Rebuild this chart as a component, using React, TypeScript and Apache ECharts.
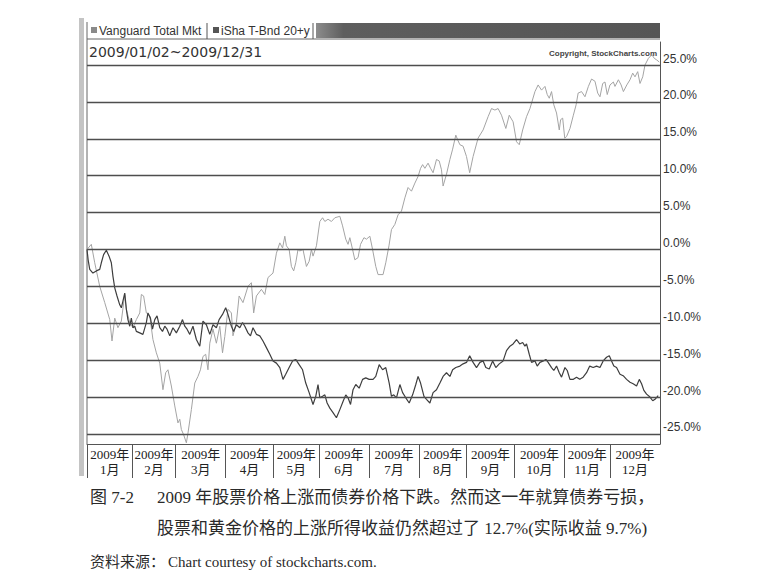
import React, { useEffect, useRef } from "react";
import * as echarts from "echarts";

// Trading-day index (0..252) and % change
const vtiData: [number, number][] = [
  [0, 0], [1.9, 0.7], [3.4, -1.8], [5.6, -5.0], [7.8, -7.2], [10.0, -9.5], [11.0, -12.4], [12.2, -9.3],
  [13.6, -10.6], [15.1, -9.7], [16.6, -6.1], [17.3, -8.1], [18.8, -9.9], [20.2, -10.6], [21.7, -9.5],
  [23.2, -8.6], [23.9, -6.1], [24.9, -6.3], [26.1, -8.6], [27.6, -9.0], [29.0, -12.2], [30.5, -14.0],
  [32.0, -15.4], [33.4, -19.0], [34.6, -16.7], [35.6, -16.3], [37.1, -18.5], [38.6, -21.2], [40.0, -23.5],
  [40.8, -23.0], [41.5, -24.4], [42.5, -25.1], [43.7, -26.2], [44.4, -24.9], [45.9, -21.7], [47.4, -18.1],
  [48.8, -17.2], [49.9, -16.3], [51.0, -14.5], [52.2, -14.2], [53.2, -16.3], [54.0, -12.7], [55.4, -10.8],
  [56.9, -12.7], [58.4, -10.4], [59.6, -14.0], [60.6, -11.8], [62.0, -8.1], [63.5, -8.6], [64.2, -11.7],
  [65.7, -9.9], [66.9, -6.3], [68.6, -7.2], [70.8, -5.0], [72.3, -4.5], [73.3, -8.6], [74.5, -6.3],
  [76.7, -5.4], [78.2, -6.1], [79.6, -3.8], [81.8, -3.2], [83.3, -0.5], [84.8, 0.9], [86.0, 0.2],
  [87.0, 1.8], [87.7, 0.5], [88.9, 0.0], [89.9, -2.3], [90.9, -2.9], [91.8, -1.8], [92.8, 0.0],
  [93.6, -0.2], [95.0, 0.0], [96.5, -2.3], [97.7, -1.6], [98.7, 0.0], [99.4, -0.9], [100.9, 0.5],
  [102.4, 3.8], [103.6, 4.3], [104.6, 3.8], [106.0, 4.1], [107.5, 3.8], [109.0, 4.3], [111.2, 4.5],
  [112.4, 3.2], [113.8, 1.4], [114.8, 0.7], [115.6, 1.6], [116.8, 0.0], [117.8, -1.4], [119.2, -1.1],
  [120.3, 0.7], [121.8, 1.6], [122.9, 1.4], [124.4, 1.8], [125.6, 0.0], [127.0, -2.3], [128.0, -3.4],
  [130.2, -3.4], [131.4, -1.8], [132.8, 0.5], [133.9, 2.7], [135.4, 3.4], [136.8, 4.7], [138.3, 5.2],
  [139.8, 7.0], [141.2, 8.4], [142.7, 7.9], [144.2, 9.0], [145.6, 9.9], [146.7, 11.0], [147.6, 11.5],
  [148.6, 11.0], [150.0, 11.7], [151.1, 11.0], [152.2, 10.4], [153.7, 12.2], [154.9, 12.0], [155.9, 10.8],
  [156.6, 8.6], [158.1, 10.2], [159.6, 12.2], [160.8, 13.6], [162.2, 15.5], [163.1, 14.8], [164.0, 14.2],
  [165.4, 14.0], [166.9, 12.6], [168.3, 10.4], [169.8, 12.6], [172.0, 15.1], [174.2, 16.2], [176.4, 18.0],
  [177.9, 19.1], [179.4, 18.9], [180.8, 19.1], [182.3, 18.2], [184.2, 16.4], [185.7, 18.2], [187.4, 17.3],
  [188.9, 14.6], [190.1, 14.2], [191.6, 16.2], [193.3, 18.0], [194.8, 19.1], [197.0, 21.4], [198.4, 22.3],
  [199.9, 21.6], [201.4, 22.1], [202.4, 21.0], [203.3, 20.5], [204.3, 21.4], [205.3, 19.6], [206.5, 18.5],
  [207.7, 16.2], [208.3, 17.6], [209.2, 17.8], [210.1, 15.1], [210.9, 15.3], [212.4, 16.4], [213.9, 18.2],
  [215.1, 19.6], [216.0, 21.2], [217.5, 21.4], [219.0, 20.7], [220.5, 22.1], [221.9, 23.1], [223.4, 22.8],
  [224.6, 21.2], [225.6, 20.7], [226.8, 22.5], [227.8, 22.7], [228.8, 21.0], [230.0, 22.3], [231.5, 22.7],
  [232.2, 22.1], [233.7, 23.0], [234.9, 22.3], [235.9, 21.4], [237.4, 22.3], [238.8, 23.0], [240.0, 23.9],
  [241.0, 23.4], [242.2, 24.1], [243.2, 22.5], [244.4, 23.4], [245.4, 25.0], [246.9, 25.9], [248.4, 26.4],
  [249.5, 25.9], [250.5, 25.7], [251.7, 25.4],
];

const tltData: [number, number][] = [
  [0, 0], [0.5, -1.4], [1.2, -2.7], [2.6, -3.2], [4.1, -2.9], [5.6, -2.7], [6.3, -1.8], [7.3, -0.7],
  [8.5, -0.1], [9.7, -0.9], [10.7, -1.8], [11.4, -3.6], [12.2, -5.2], [13.2, -6.3], [14.4, -7.5],
  [15.1, -7.9], [15.8, -7.0], [16.6, -5.9], [17.3, -8.1], [18.0, -9.5], [18.8, -10.4], [19.5, -9.3],
  [20.2, -10.6], [21.0, -10.4], [21.7, -11.1], [23.2, -11.3], [24.6, -11.5], [26.1, -9.9], [26.8, -8.6],
  [27.9, -9.3], [28.8, -10.8], [29.8, -9.5], [30.8, -9.0], [32.0, -10.6], [33.2, -11.1], [34.2, -10.4],
  [35.2, -10.8], [36.4, -11.7], [37.8, -10.6], [39.3, -11.3], [40.8, -10.4], [42.0, -9.5], [43.0, -10.4],
  [44.0, -10.8], [45.2, -11.5], [46.6, -10.4], [48.1, -12.2], [49.6, -13.1], [51.0, -9.7], [52.5, -10.2],
  [54.0, -11.5], [55.4, -10.2], [56.9, -10.6], [58.1, -9.5], [59.6, -8.8], [61.0, -7.9], [62.0, -8.8],
  [63.5, -10.4], [64.5, -11.1], [65.7, -10.2], [67.2, -10.6], [68.4, -9.9], [69.4, -10.4], [70.8, -11.3],
  [71.9, -11.7], [73.0, -10.6], [74.5, -11.5], [76.0, -11.7], [77.4, -12.4], [78.9, -13.3], [80.4, -14.2],
  [81.8, -15.1], [83.3, -15.4], [84.8, -16.0], [86.2, -17.6], [87.4, -16.9], [88.9, -16.0], [90.4, -15.1],
  [91.8, -14.9], [93.3, -15.6], [94.8, -16.3], [96.2, -18.1], [97.7, -19.4], [99.4, -21.0], [100.6, -19.9],
  [101.6, -18.3], [102.4, -20.1], [103.6, -19.9], [104.6, -19.7], [105.6, -20.8], [106.8, -21.5],
  [108.2, -22.1], [109.7, -22.8], [111.2, -21.7], [112.6, -20.6], [113.8, -19.7], [114.8, -20.1],
  [115.9, -21.0], [117.0, -19.0], [118.2, -18.3], [119.7, -18.8], [121.2, -17.6], [122.6, -17.4],
  [124.1, -17.6], [125.8, -17.6], [127.0, -17.2], [128.5, -15.6], [130.0, -16.3], [131.4, -16.0],
  [132.9, -18.1], [133.9, -19.9], [134.9, -19.7], [136.1, -20.1], [137.6, -18.3], [138.8, -19.4],
  [140.2, -20.1], [141.7, -20.8], [143.2, -19.7], [144.6, -18.3], [145.6, -17.2], [146.7, -18.1],
  [148.2, -19.9], [149.3, -20.3], [150.8, -20.8], [152.2, -19.4], [153.7, -19.0], [155.2, -18.1],
  [156.6, -17.2], [158.1, -16.7], [159.6, -17.2], [160.8, -16.3], [162.2, -16.0], [164.0, -15.8],
  [165.4, -15.5], [166.9, -15.3], [168.3, -14.4], [169.8, -15.3], [171.3, -16.0], [172.8, -15.3],
  [174.2, -15.1], [175.4, -16.0], [176.9, -16.2], [178.4, -15.1], [179.8, -16.0], [181.3, -15.5],
  [183.0, -15.1], [184.5, -13.7], [186.0, -13.1], [187.4, -12.8], [188.9, -12.2], [190.3, -12.8],
  [191.6, -12.6], [192.6, -13.1], [193.3, -12.8], [194.5, -14.2], [195.5, -15.3], [197.0, -15.1],
  [198.0, -15.8], [199.2, -15.3], [200.7, -15.1], [201.8, -14.9], [202.8, -15.3], [204.3, -16.0],
  [205.3, -16.4], [206.5, -15.8], [207.7, -16.7], [208.7, -17.3], [210.2, -16.0], [211.2, -16.4],
  [212.4, -17.6], [213.9, -17.6], [215.3, -17.3], [216.7, -17.6], [218.2, -17.3], [219.7, -16.7],
  [221.1, -15.8], [222.6, -16.0], [224.1, -15.8], [225.6, -16.0], [227.0, -15.1], [228.5, -14.6],
  [229.7, -14.4], [230.7, -15.1], [231.7, -15.8], [232.9, -16.0], [234.4, -16.9], [235.8, -17.1],
  [237.3, -17.6], [238.8, -18.0], [240.2, -18.2], [241.7, -18.5], [242.9, -17.6], [243.9, -18.2],
  [244.9, -19.1], [246.1, -19.6], [247.6, -20.0], [248.8, -20.5], [249.8, -20.3], [251.2, -19.8],
];

// First trading day of each month (2009), trading-day index
const monthStarts = [0, 20, 39, 61, 82, 102, 124, 146, 167, 188, 210, 230, 252];
const monthNames = ["1月", "2月", "3月", "4月", "5月", "6月", "7月", "8月", "9月", "10月", "11月", "12月"];
const yearLabel = "2009年";
const yTicks = [-25, -20, -15, -10, -5, 0, 5, 10, 15, 20, 25];

const seriesNames = ["Vanguard Total Mkt", "iSha T-Bnd 20+y"];
const dateRange = "2009/01/02~2009/12/31";
const copyright = "Copyright, StockCharts.com";
const caption1a = "图 7-2";
const caption1b = "2009 年股票价格上涨而债券价格下跌。然而这一年就算债券亏损，";
const caption2 = "股票和黄金价格的上涨所得收益仍然超过了 12.7%(实际收益 9.7%)";
const sourceA = "资料来源：";
const sourceB = "Chart courtesy of stockcharts.com.";

const monthMids = monthStarts.slice(0, 12).map((s, i) => (s + monthStarts[i + 1]) / 2);

export default function App() {
  const ref = useRef<HTMLDivElement>(null);
  useEffect(() => {
    document.body.style.margin = "0";
    const chart = echarts.init(ref.current!, null, { renderer: "svg" });
    const serifFont = "'Liberation Serif', 'Noto Sans CJK SC', serif";
    const sansFont = "'Liberation Sans', Arial, sans-serif";
    chart.setOption({
      animation: false,
      backgroundColor: "#ffffff",
      grid: { left: 87, right: 104, top: 42, bottom: 138, containLabel: false },
      xAxis: {
        type: "value",
        min: 0,
        max: 252,
        axisLine: { show: true, onZero: false, lineStyle: { color: "#555", width: 1 } },
        splitLine: { show: false },
        axisTick: {
          show: true,
          customValues: monthStarts.slice(0, 12),
          length: 34,
          inside: false,
          lineStyle: { color: "#555", width: 1 },
        },
        axisLabel: {
          customValues: monthMids,
          margin: 3,
          fontFamily: serifFont,
          fontSize: 13,
          lineHeight: 15,
          color: "#222",
          formatter: (v: number) => {
            let best = 0;
            monthMids.forEach((m, i) => {
              if (Math.abs(m - v) < Math.abs(monthMids[best] - v)) best = i;
            });
            return `${yearLabel}\n${monthNames[best]}`;
          },
        },
      },
      yAxis: {
        type: "value",
        position: "right",
        min: -26.36,
        max: 28.12,
        axisLine: { show: true, onZero: false, lineStyle: { color: "#555", width: 1 } },
        axisTick: { show: false },
        splitLine: { show: false },
        axisLabel: {
          customValues: yTicks,
          margin: 3,
          fontFamily: sansFont,
          fontSize: 12,
          color: "#333",
          verticalAlign: "bottom",
          lineHeight: 13,
          formatter: (v: number) => `${v.toFixed(1)}%`,
        },
      },
      series: [
        {
          name: seriesNames[0],
          type: "line",
          data: vtiData,
          symbol: "none",
          z: 3,
          lineStyle: { color: "#a4a4a4", width: 1 },
        },
        {
          name: seriesNames[1],
          type: "line",
          data: tltData,
          symbol: "none",
          z: 4,
          lineStyle: { color: "#3e3e3e", width: 1.2 },
          markLine: {
            silent: true,
            symbol: ["none", "none"],
            label: { show: false },
            lineStyle: { color: "#4e4e4e", width: 1.3, type: "solid" },
            data: yTicks.map((v) => ({ yAxis: v })),
          },
        },
      ],
      graphic: [
        { type: "rect", shape: { x: 79, y: 18, width: 5, height: 458 }, style: { fill: "#c4c4c4" } },
        { type: "line", shape: { x1: 87, y1: 22, x2: 87, y2: 444 }, style: { stroke: "#666", lineWidth: 1 } },
        { type: "line", shape: { x1: 87, y1: 39, x2: 660, y2: 39 }, style: { stroke: "#666", lineWidth: 1 } },
        { type: "rect", shape: { x: 91, y: 27, width: 6, height: 6 }, style: { fill: "#8a8a8a" } },
        {
          type: "text", x: 99, y: 31,
          style: { text: seriesNames[0], font: `12px ${sansFont}`, fill: "#333", verticalAlign: "middle" },
        },
        { type: "line", shape: { x1: 207, y1: 23, x2: 207, y2: 39 }, style: { stroke: "#555", lineWidth: 1 } },
        { type: "rect", shape: { x: 213, y: 27, width: 6, height: 6 }, style: { fill: "#555" } },
        {
          type: "text", x: 221, y: 31,
          style: { text: seriesNames[1], font: `12px ${sansFont}`, fill: "#333", verticalAlign: "middle" },
        },
        { type: "line", shape: { x1: 313, y1: 23, x2: 313, y2: 39 }, style: { stroke: "#555", lineWidth: 1 } },
        {
          type: "rect", shape: { x: 316, y: 23, width: 344, height: 15 },
          style: {
            fill: new echarts.graphic.LinearGradient(0, 0, 1, 0, [
              { offset: 0, color: "#8c8c8c" },
              { offset: 0.08, color: "#5e5e5e" },
              { offset: 1, color: "#555" },
            ]),
          },
        },
        {
          type: "text", x: 89, y: 52,
          style: { text: dateRange, font: `14px 'DejaVu Sans', sans-serif`, fill: "#333", verticalAlign: "middle" },
        },
        {
          type: "text", x: 657, y: 53,
          style: { text: copyright, font: `bold 8px ${sansFont}`, fill: "#444", align: "right", verticalAlign: "middle" },
        },
        {
          type: "text", x: 90, y: 497,
          style: { text: caption1a, font: `17px ${serifFont}`, fill: "#2a2a2a", verticalAlign: "middle" },
        },
        {
          type: "text", x: 157, y: 497,
          style: { text: caption1b, font: `17px ${serifFont}`, fill: "#2a2a2a", verticalAlign: "middle" },
        },
        {
          type: "text", x: 157, y: 528,
          style: { text: caption2, font: `17px ${serifFont}`, fill: "#2a2a2a", verticalAlign: "middle" },
        },
        {
          type: "text", x: 90, y: 562,
          style: { text: sourceA, font: `15px ${serifFont}`, fill: "#2a2a2a", verticalAlign: "middle" },
        },
        {
          type: "text", x: 168, y: 562,
          style: { text: sourceB, font: `15px ${serifFont}`, fill: "#2a2a2a", verticalAlign: "middle" },
        },
      ],
    });
    return () => chart.dispose();
  }, []);
  return <div ref={ref} style={{ width: 764, height: 582 }} />;
}
